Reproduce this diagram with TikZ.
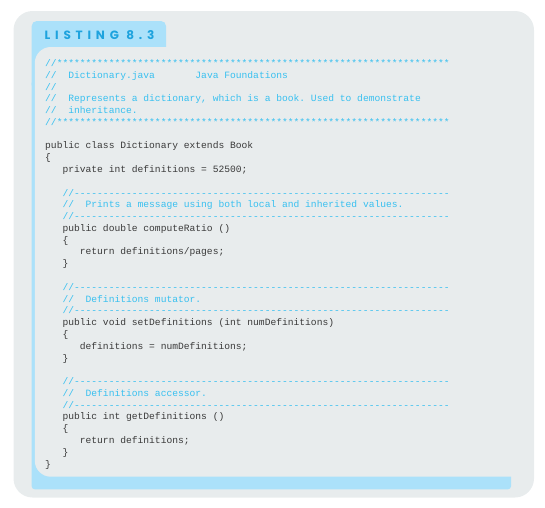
\documentclass[tikz,border=0pt]{standalone}
\usepackage{fontspec}
\setmonofont{Liberation Mono}
\newfontfamily\titlefont[LetterSpace=40]{Poppins}
\definecolor{outergray}{HTML}{E8ECED}
\definecolor{tabblue}{HTML}{ABE1FA}
\definecolor{titleblue}{HTML}{1EA3DE}
\definecolor{cmtblue}{HTML}{38C0F0}
\definecolor{codegray}{HTML}{3A3A3A}
\tikzset{
  code/.style={anchor=base west, inner sep=0pt, font=\fontsize{9.63}{11}\ttfamily, text=codegray},
  cmt/.style={code, text=cmtblue},
}
\newcommand\stars{********************************************************************}
\newcommand\dashes{-----------------------------------------------------------------}
\newcommand\cl[3]{\node[#1] (l#2) at (45,{66.5+(#2-1)*11.78}) {#3};}
\begin{document}
\begin{tikzpicture}[x=1pt,y=-1pt]
\useasboundingbox (0,0) rectangle (545,507);
\fill[outergray, rounded corners=19] (13.5,11) rectangle (534,497.5);
\fill[tabblue, rounded corners=5] (31.7,21) rectangle (166,90);
\fill[tabblue, rounded corners=3] (31.7,80) rectangle (511,489.3);
\fill[outergray] (525,47) -- (50.8,47) arc[start angle=270, end angle=180, radius=16]
  -- (34.8,460.7) arc[start angle=180, end angle=90, radius=16] -- (525,476.7) -- cycle;
\node[anchor=base west, inner sep=0pt, text=titleblue, font=\fontsize{12}{14}\titlefont\bfseries] (title) at (44.5,39.5) {LISTING 8.3};
\cl{cmt}{1}{//\stars}
\cl{cmt}{2}{//~~Dictionary.java~~~~~~~Java Foundations}
\cl{cmt}{3}{//}
\cl{cmt}{4}{//~~Represents a dictionary, which is a book. Used to demonstrate}
\cl{cmt}{5}{//~~inheritance.}
\cl{cmt}{6}{//\stars}
\cl{code}{8}{public class Dictionary extends Book}
\cl{code}{9}{\{}
\cl{code}{10}{~~~private int definitions = 52500;}
\cl{cmt}{12}{~~~//\dashes}
\cl{cmt}{13}{~~~//~~Prints a message using both local and inherited values.}
\cl{cmt}{14}{~~~//\dashes}
\cl{code}{15}{~~~public double computeRatio ()}
\cl{code}{16}{~~~\{}
\cl{code}{17}{~~~~~~return definitions/pages;}
\cl{code}{18}{~~~\}}
\cl{cmt}{20}{~~~//\dashes}
\cl{cmt}{21}{~~~//~~Definitions mutator.}
\cl{cmt}{22}{~~~//\dashes}
\cl{code}{23}{~~~public void setDefinitions (int numDefinitions)}
\cl{code}{24}{~~~\{}
\cl{code}{25}{~~~~~~definitions = numDefinitions;}
\cl{code}{26}{~~~\}}
\cl{cmt}{28}{~~~//\dashes}
\cl{cmt}{29}{~~~//~~Definitions accessor.}
\cl{cmt}{30}{~~~//\dashes}
\cl{code}{31}{~~~public int getDefinitions ()}
\cl{code}{32}{~~~\{}
\cl{code}{33}{~~~~~~return definitions;}
\cl{code}{34}{~~~\}}
\cl{code}{35}{\}}
\end{tikzpicture}
\end{document}
